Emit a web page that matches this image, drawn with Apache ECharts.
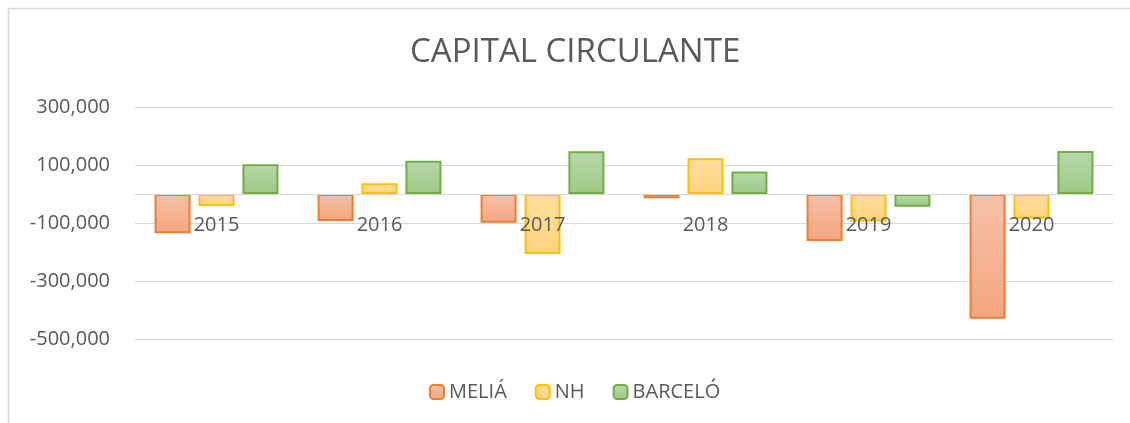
<!DOCTYPE html>
<html>
<head>
<meta charset="utf-8">
<title>Capital circulante</title>
<script src="https://cdn.jsdelivr.net/npm/echarts@6/dist/echarts.min.js"></script>
<style>
  html, body { margin: 0; padding: 0; background: #fff; }
  #chart { width: 1130px; height: 423px; }
</style>
</head>
<body>
<div id="chart"></div>
<script>
// datos
var years = ['2015', '2016', '2017', '2018', '2019', '2020'];
var melia = [-135000, -93000, -99000, -15000, -162000, -430000];
var nh = [-41000, 37000, -207000, 123000, -95000, -85000];
var barcelo = [103000, 115000, 147000, 78000, -44000, 148000];
var yTicks = [-500000, -300000, -100000, 100000, 300000];

var txt = '#595959';
var font = 'Open Sans';

function grad(top, bottom) {
  return new echarts.graphic.LinearGradient(0, 0, 0, 1, [
    { offset: 0, color: top },
    { offset: 1, color: bottom }
  ]);
}

var myChart = echarts.init(document.getElementById('chart'));
var option = {
  animation: false,
  backgroundColor: '#fff',
  textStyle: { fontFamily: font },
  title: {
    text: 'CAPITAL CIRCULANTE',
    left: 405,
    top: 31,
    textStyle: { color: txt, fontSize: 33, fontWeight: 'normal', fontFamily: font }
  },
  graphic: [{
    type: 'rect',
    shape: { x: 8.5, y: 8.5, width: 1200, height: 600 },
    style: { fill: 'none', stroke: '#d9d9d9', lineWidth: 1.5 },
    silent: true
  }],
  legend: {
    bottom: 16,
    left: 424,
    itemWidth: 14,
    itemHeight: 14,
    itemGap: 28,
    textStyle: { color: txt, fontSize: 20, fontFamily: font },
    data: ['MELIÁ', 'NH', 'BARCELÓ']
  },
  grid: { left: 135, right: 17, top: 107, bottom: 84, containLabel: false },
  xAxis: {
    type: 'category',
    data: years,
    // eje desplazado hasta el cero (las etiquetas van pegadas a la línea)
    offset: -145,
    z: 5,
    axisLine: { onZero: false, lineStyle: { color: '#d9d9d9', width: 1 } },
    axisTick: { show: false },
    axisLabel: { color: txt, fontSize: 20, margin: 21, fontFamily: font },
    splitLine: { show: false }
  },
  yAxis: {
    type: 'value',
    min: -500000,
    max: 300000,
    interval: 100000,
    axisLine: { show: false },
    axisTick: { show: false },
    axisLabel: {
      color: txt, fontSize: 20, margin: 25, fontFamily: font,
      formatter: function (v) {
        return yTicks.indexOf(v) >= 0 ? v.toLocaleString('en-US') : '';
      }
    },
    splitLine: { lineStyle: { color: ['#d9d9d9', 'transparent'], width: 1 } }
  },
  series: [
    {
      name: 'MELIÁ', type: 'bar', data: melia,
      barWidth: 36, barGap: '22%',
      itemStyle: { color: grad('#f6c1a9', '#f4a57e'), borderColor: '#ed7d31', borderWidth: 2 }
    },
    {
      name: 'NH', type: 'bar', data: nh,
      barWidth: 36, barGap: '22%',
      itemStyle: { color: grad('#ffdf9e', '#ffd37d'), borderColor: '#ffc000', borderWidth: 2 }
    },
    {
      name: 'BARCELÓ', type: 'bar', data: barcelo,
      barWidth: 36, barGap: '22%',
      itemStyle: { color: grad('#b8d8aa', '#9dc986'), borderColor: '#70ad47', borderWidth: 2 }
    }
  ]
};
myChart.setOption(option);
</script>
</body>
</html>
